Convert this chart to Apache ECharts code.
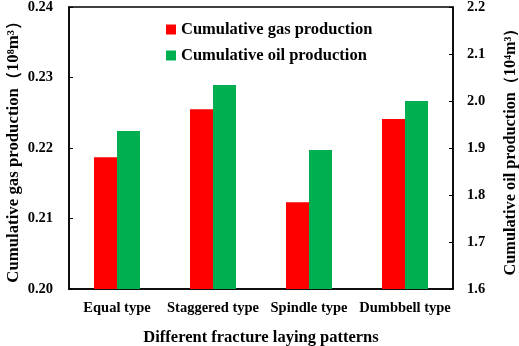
<!DOCTYPE html>
<html>
<head>
<meta charset="utf-8">
<script src="https://cdn.jsdelivr.net/npm/echarts@6/dist/echarts.min.js"></script>
<style>
  html, body { margin: 0; padding: 0; background: #fff; }
  #chart { width: 519px; height: 346px; }
</style>
</head>
<body>
<div id="chart"></div>
<script>
var categories = ['Equal type', 'Staggered type', 'Spindle type', 'Dumbbell type'];
var gasProduction = [0.2187, 0.2255, 0.2123, 0.2241];
var oilProduction = [1.936, 2.034, 1.896, 2.000];

var FONT = '"Liberation Serif", "Times New Roman", serif';
var myChart = echarts.init(document.getElementById('chart'));

var option = {
    backgroundColor: '#fff',
    animation: false,
    textStyle: { fontFamily: FONT },
    grid: {
        left: 69, right: 66, top: 7, bottom: 57,
        outerBoundsMode: 'none',
        show: true, borderColor: '#000', borderWidth: 1.5
    },
    legend: {
        orient: 'vertical',
        left: 161, top: 16,
        itemWidth: 10, itemHeight: 10, itemGap: 9,
        icon: 'rect',
        textStyle: { color: '#000', fontSize: 16.5, fontWeight: 'bold', fontFamily: FONT },
        data: ['Cumulative gas production', 'Cumulative oil production']
    },
    xAxis: {
        type: 'category',
        data: categories,
        name: 'Different fracture laying patterns',
        nameLocation: 'middle',
        nameGap: 40,
        nameTextStyle: { color: '#000', fontSize: 16.5, fontWeight: 'bold', fontFamily: FONT },
        axisLine: { lineStyle: { color: '#000', width: 1.5 } },
        axisTick: { inside: true, length: 4, lineStyle: { color: '#000' } },
        axisLabel: { interval: 0, color: '#000', fontSize: 14.5, fontWeight: 'bold', margin: 12, fontFamily: FONT }
    },
    yAxis: [
        {
            type: 'value',
            min: 0.20, max: 0.24, interval: 0.01,
            name: 'Cumulative gas production（10⁸m³）',
            nameLocation: 'middle',
            nameGap: 47,
            nameMoveOverlap: false,
            nameTextStyle: { color: '#000', fontSize: 16.8, fontWeight: 'bold', fontFamily: FONT },
            axisLine: { show: true, lineStyle: { color: '#000', width: 1.5 } },
            axisTick: { show: true, inside: true, length: 4, lineStyle: { color: '#000' } },
            axisLabel: {
                color: '#000', fontSize: 14.5, fontWeight: 'bold', margin: 16, fontFamily: FONT,
                formatter: function (v) { return v.toFixed(2); }
            },
            splitLine: { show: false }
        },
        {
            type: 'value',
            position: 'right',
            min: 1.6, max: 2.2, interval: 0.1,
            name: 'Cumulative oil production（10⁴m³）',
            nameLocation: 'middle',
            nameGap: 50,
            nameMoveOverlap: false,
            nameRotate: 90,
            nameTextStyle: { color: '#000', fontSize: 16.3, fontWeight: 'bold', fontFamily: FONT },
            axisLine: { show: true, lineStyle: { color: '#000', width: 1.5 } },
            axisTick: { show: true, inside: true, length: 4, lineStyle: { color: '#000' } },
            axisLabel: {
                color: '#000', fontSize: 14.5, fontWeight: 'bold', margin: 14, fontFamily: FONT,
                formatter: function (v) { return v.toFixed(1); }
            },
            splitLine: { show: false }
        }
    ],
    series: [
        {
            name: 'Cumulative gas production',
            type: 'bar',
            yAxisIndex: 0,
            data: gasProduction,
            barWidth: 23,
            barGap: '0%',
            itemStyle: { color: '#ff0000' }
        },
        {
            name: 'Cumulative oil production',
            type: 'bar',
            yAxisIndex: 1,
            data: oilProduction,
            barWidth: 23,
            barGap: '0%',
            itemStyle: { color: '#00b050' }
        }
    ]
};

myChart.setOption(option);
window.addEventListener('resize', function () {
    myChart.resize();
});
</script>
</body>
</html>
